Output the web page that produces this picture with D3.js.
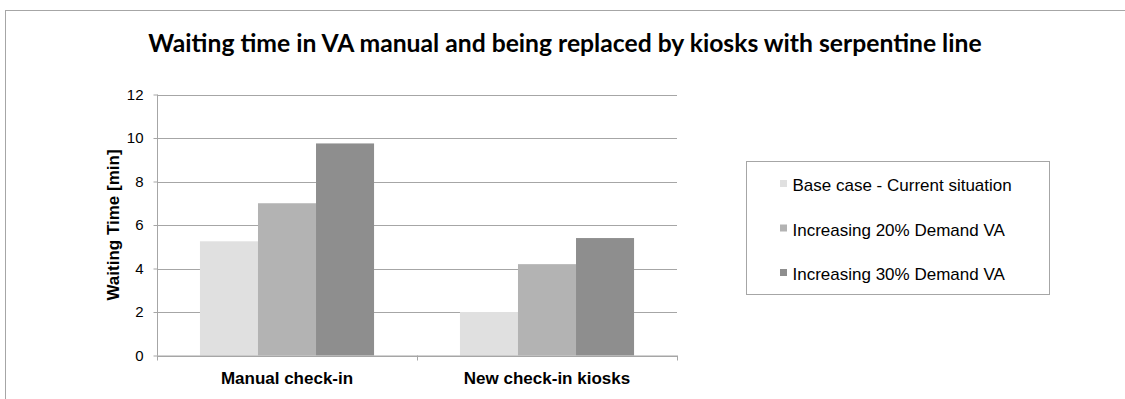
<!DOCTYPE html>
<html>
<head>
<meta charset="utf-8">
<script src="https://cdn.jsdelivr.net/npm/d3@7"></script>
<style>
  html, body { margin: 0; padding: 0; background: #fff; }
  svg { display: block; }
</style>
</head>
<body>
<svg id="chart" width="1125" height="399"></svg>
<script>
// Waiting time per check-in setup, for each demand scenario
const categories = ["Manual check-in", "New check-in kiosks"];
const seriesNames = [
  "Base case - Current situation",
  "Increasing 20% Demand VA",
  "Increasing 30% Demand VA"
];
const baseCase = [5.25, 2.0];
const demand20 = [7.0, 4.2];
const demand30 = [9.75, 5.4];
const yTicks = [0, 2, 4, 6, 8, 10, 12];
const seriesColors = ["#e0e0e0", "#b3b3b3", "#8e8e8e"];

const seriesValues = [baseCase, demand20, demand30];
const rows = categories.map((c, i) => ({
  category: c,
  values: seriesNames.map((s, j) => ({ series: s, value: seriesValues[j][i] }))
}));

const svg = d3.select("#chart");
const W = 1125, H = 399;
const SANS = "'Liberation Sans', Arial, sans-serif";

// Outer chart frame
svg.append("rect")
  .attr("x", 5.5).attr("y", 10.5)
  .attr("width", W + 10).attr("height", H + 10)
  .attr("fill", "none").attr("stroke", "#a6a6a6").attr("stroke-width", 1);

const plot = { left: 157, right: 677, top: 94.5, bottom: 355.5 };

const x0 = d3.scaleBand().domain(categories)
  .range([plot.left, plot.right]).paddingInner(0).paddingOuter(0);
const x1 = d3.scaleBand().domain(seriesNames)
  .range([0, x0.bandwidth()]).paddingInner(0).paddingOuter(0.74);
const y = d3.scaleLinear().domain([0, 12]).range([plot.bottom, plot.top]);

// Horizontal gridlines
svg.append("g")
  .selectAll("line")
  .data(yTicks)
  .join("line")
  .attr("x1", plot.left).attr("x2", plot.right)
  .attr("y1", d => Math.round(y(d)) + 0.5).attr("y2", d => Math.round(y(d)) + 0.5)
  .attr("stroke", "#a6a6a6").attr("stroke-width", 1);

// Bars
const groups = svg.append("g")
  .selectAll("g")
  .data(rows)
  .join("g")
  .attr("transform", d => `translate(${x0(d.category)},0)`);

groups.selectAll("rect")
  .data(d => d.values)
  .join("rect")
  .attr("x", d => x1(d.series))
  .attr("width", x1.bandwidth())
  .attr("y", d => y(d.value))
  .attr("height", d => plot.bottom - y(d.value))
  .attr("fill", (d, i) => seriesColors[i]);

// Y axis
const yAxis = svg.append("g")
  .attr("transform", `translate(${plot.left + 0.5},0)`)
  .call(d3.axisLeft(y).tickValues(yTicks).tickSize(4).tickPadding(10).tickFormat(d3.format("d")));
yAxis.select(".domain").attr("stroke", "#a6a6a6").attr("d", `M0,${plot.top}V${plot.bottom}`);
yAxis.selectAll(".tick line").attr("stroke", "#a6a6a6");
yAxis.selectAll(".tick text")
  .attr("font-family", SANS)
  .attr("font-size", 15).attr("fill", "#000");

// X axis
const xAxis = svg.append("g")
  .attr("transform", `translate(0,${plot.bottom})`)
  .call(d3.axisBottom(x0).tickSize(0).tickPadding(0));
xAxis.select(".domain").attr("stroke", "#a6a6a6").attr("d", `M${plot.left},0.5H${plot.right}`);
xAxis.selectAll(".tick text")
  .attr("dy", null)
  .attr("y", 28)
  .attr("font-family", SANS)
  .attr("font-size", 17).attr("font-weight", "bold").attr("fill", "#000");
// Category boundary ticks
xAxis.append("g")
  .selectAll("line")
  .data([plot.left, plot.left + x0.bandwidth(), plot.right])
  .join("line")
  .attr("x1", d => d + 0.5).attr("x2", d => d + 0.5)
  .attr("y1", 0).attr("y2", 5)
  .attr("stroke", "#a6a6a6");

// Y axis title
svg.append("text")
  .attr("transform", `translate(119,${(plot.top + plot.bottom) / 2}) rotate(-90)`)
  .attr("text-anchor", "middle")
  .attr("font-family", SANS)
  .attr("font-size", 17).attr("font-weight", "bold")
  .text("Waiting Time [min]");

// Chart title, fitted to its span
const title = svg.append("text")
  .attr("x", 565).attr("y", 52)
  .attr("text-anchor", "middle")
  .attr("font-family", "Lato, 'Open Sans', sans-serif")
  .attr("font-size", 22).attr("font-weight", "bold")
  .attr("fill", "#000")
  .text("Waiting time in VA manual and being replaced by kiosks with serpentine line");
const tw = title.node().getComputedTextLength();
title.attr("font-size", 22 * 834 / tw);

// Legend
const legend = svg.append("g");
legend.append("rect")
  .attr("x", 746.5).attr("y", 161.5)
  .attr("width", 303).attr("height", 133)
  .attr("fill", "#fff").attr("stroke", "#a6a6a6");
const items = legend.selectAll("g.item")
  .data(seriesNames)
  .join("g")
  .attr("class", "item")
  .attr("transform", (d, i) => `translate(780,${191 + i * 44.5})`);
items.append("rect")
  .attr("x", 0).attr("y", -11).attr("width", 7).attr("height", 7)
  .attr("fill", (d, i) => seriesColors[i]);
items.append("text")
  .attr("x", 12.5).attr("y", 0)
  .attr("font-family", SANS)
  .attr("font-size", 17).attr("fill", "#000")
  .text(d => d);
</script>
</body>
</html>
